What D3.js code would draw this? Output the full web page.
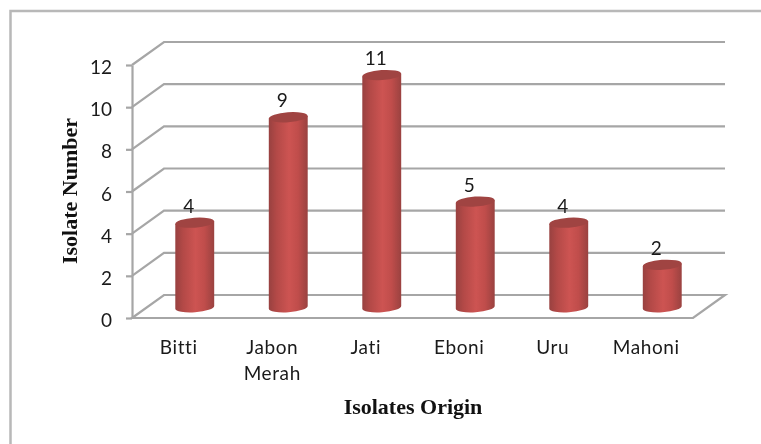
<!DOCTYPE html>
<html lang="en">

<head>
  <meta charset="UTF-8">
  <title>Isolate Number by Origin</title>
  <script src="https://d3js.org/d3.v7.min.js"></script>
  <style>
    html, body {
      margin: 0;
      background: #fff;
      overflow: hidden;
    }

    svg {
      display: block;
      filter: blur(0.5px);
    }

    .tick-label {
      font-family: Lato, sans-serif;
      font-size: 19px;
      fill: #1a1a1a;
    }

    .axis-title {
      font-family: "Liberation Serif", serif;
      font-size: 22px;
      font-weight: bold;
      fill: #111;
    }
  </style>
</head>

<body>
  <svg id="chart" width="761" height="444"></svg>

  <script>
    const categories = ["Bitti", "Jabon Merah", "Jati", "Eboni", "Uru", "Mahoni"];
    const isolateCounts = [4, 9, 11, 5, 4, 2];
    const yTicks = [0, 2, 4, 6, 8, 10, 12];

    const width = 761, height = 444;
    const plot = { left: 132, right: 693, top: 65, bottom: 318 };
    const depth = { x: 32, y: -23 };
    const gridColor = "#a6a6a6";

    const svg = d3.select("#chart");

    const x = d3.scaleBand().domain(categories).range([plot.left, plot.right]);
    const y = d3.scaleLinear().domain([0, 12]).range([plot.bottom, plot.top]);

    // outer frame, open on the right and bottom like the source
    svg.append("path")
      .attr("d", `M10.5,${height}V11H${width}`)
      .attr("fill", "none")
      .attr("stroke", "#b8b8b8")
      .attr("stroke-width", 2.5);

    // 3D gridlines: side wall then back wall
    const grid = svg.append("g")
      .attr("fill", "none")
      .attr("stroke", gridColor)
      .attr("stroke-width", 2.2);

    grid.selectAll("path")
      .data(yTicks)
      .enter().append("path")
      .attr("d", d => {
        const back = d3.path();
        back.moveTo(plot.left, y(d));
        back.lineTo(plot.left + depth.x, y(d) + depth.y);
        back.lineTo(plot.right + depth.x, y(d) + depth.y);
        if (d === 0) {
          back.lineTo(plot.right, y(d));
          back.closePath();
        }
        return back.toString();
      });

    // cylinder shading
    const defs = svg.append("defs");
    const sideGrad = defs.append("linearGradient").attr("id", "side");
    [[0, "#984140"], [0.2, "#b34947"], [0.52, "#cd5452"], [0.75, "#c04d4b"], [1, "#9a4240"]]
      .forEach(([o, c]) => sideGrad.append("stop").attr("offset", o).attr("stop-color", c));

    const bars = svg.append("g")
      .selectAll("g")
      .data(categories.map((c, i) => ({ category: c, value: isolateCounts[i] })))
      .enter().append("g");

    const rx = 19.5, ry = 5, tilt = -4;
    const dx = rx * Math.cos(tilt * Math.PI / 180), dy = rx * Math.sin(tilt * Math.PI / 180);
    const barCx = d => x(d.category) + x.bandwidth() / 2 + depth.x / 2;
    const barTop = d => y(d.value) + depth.y / 2 + 0.5;
    const barBase = () => y(0) + depth.y / 2 + 0.8;

    bars.append("path")
      .attr("fill", "url(#side)")
      .attr("d", d => {
        const cx = barCx(d);
        return `M${cx - dx},${barTop(d) - dy}` +
          `L${cx - dx},${barBase() - dy}` +
          `A${rx},${ry} ${tilt} 0 0 ${cx + dx},${barBase() + dy}` +
          `L${cx + dx},${barTop(d) + dy}Z`;
      });

    bars.append("ellipse")
      .attr("rx", rx)
      .attr("ry", ry)
      .attr("fill", "#a04442")
      .attr("transform", d => `translate(${barCx(d)},${barTop(d)}) rotate(${tilt})`);

    // data labels sit a little left of the cylinder centre
    bars.append("text")
      .attr("class", "tick-label")
      .attr("text-anchor", "middle")
      .attr("x", d => barCx(d) - 6)
      .attr("y", d => barTop(d) - 10)
      .text(d => d.value);

    // value axis
    const yAxis = svg.append("g")
      .attr("transform", `translate(${plot.left},0)`)
      .call(d3.axisLeft(y).tickValues(yTicks).tickSize(6).tickSizeOuter(0).tickPadding(14));
    yAxis.selectAll("path, line")
      .attr("stroke", gridColor)
      .attr("stroke-width", 2.2);
    yAxis.selectAll("text")
      .attr("class", "tick-label")
      .attr("fill", null)
      .attr("dy", "0.45em");

    // category axis, labels wrapped onto two lines where needed
    const xAxis = svg.append("g")
      .attr("transform", `translate(0,${plot.bottom})`)
      .call(d3.axisBottom(x).tickSize(0).tickPadding(23));
    xAxis.select(".domain").remove();
    xAxis.selectAll("text")
      .attr("class", "tick-label")
      .attr("fill", null)
      .style("letter-spacing", "0.6px")
      .each(function (d) {
        const label = d3.select(this);
        const words = d.split(" ");
        label.text(null);
        words.forEach((w, i) => {
          label.append("tspan")
            .attr("x", 0)
            .attr("dy", i === 0 ? "0.71em" : 26)
            .text(w);
        });
      });

    svg.append("text")
      .attr("class", "axis-title")
      .attr("text-anchor", "middle")
      .attr("transform", "translate(77,191) rotate(-90)")
      .text("Isolate Number");

    svg.append("text")
      .attr("class", "axis-title")
      .attr("text-anchor", "middle")
      .attr("x", 413)
      .attr("y", 414)
      .text("Isolates Origin");
  </script>
</body>

</html>
